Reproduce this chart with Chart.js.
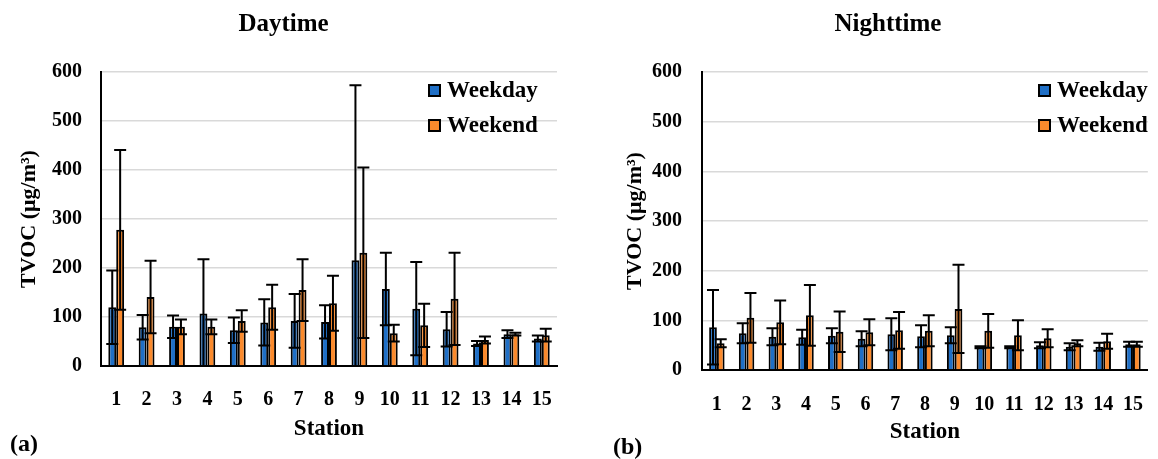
<!DOCTYPE html>
<html>
<head>
<meta charset="utf-8">
<script src="https://cdn.jsdelivr.net/npm/chart.js@4.4.1/dist/chart.umd.min.js"></script>
<style>
  body { margin: 0; background: #fff; width: 1158px; height: 459px; position: relative; overflow: hidden; }
  canvas { position: absolute; top: 0; }
  .legend { position: absolute; font: bold 23px "Liberation Serif", "Times New Roman", serif; color: #000; }
  .legend div { line-height: 24px; display: flex; align-items: center; height: 24px; margin-bottom: 11px; }
  .legend span.box { display: inline-block; width: 9px; height: 9px; border: 2px solid #000; margin-right: 6px; }
  .panel { position: absolute; font: bold 24px "Liberation Serif", "Times New Roman", serif; line-height: 24px; color: #000; }
</style>
</head>
<body>
<canvas id="grafico-dia" width="580" height="459" style="left:0px"></canvas>
<canvas id="grafico-noite" width="578" height="459" style="left:580px"></canvas>
<div class="legend" id="legenda-dia" style="left:428px; top:78px"></div>
<div class="legend" id="legenda-noite" style="left:1038px; top:78px"></div>
<div class="panel" style="left:10px; top:431px">(a)</div>
<div class="panel" style="left:613px; top:434px">(b)</div>
<script>
var estacoes = ["1", "2", "3", "4", "5", "6", "7", "8", "9", "10", "11", "12", "13", "14", "15"];
var yTicks = [0, 100, 200, 300, 400, 500, 600];

var diaSemanaMedia = [120, 79, 80, 107, 73, 89, 92, 90, 216, 157, 117, 75, 46, 65, 56];
var diaSemanaDesvio = [75, 25, 23, 111, 26, 47, 55, 34, 357, 74, 95, 35, 5, 8, 6];
var diaFimMedia = [278, 141, 80, 80, 92, 120, 155, 128, 231, 67, 83, 137, 53, 65, 63];
var diaFimDesvio = [163, 74, 15, 15, 22, 46, 63, 56, 174, 17, 44, 94, 7, 3, 13];

var noiteSemanaMedia = [86, 74, 67, 66, 69, 63, 72, 68, 70, 46, 46, 50, 47, 47, 52];
var noiteSemanaDesvio = [75, 20, 17, 15, 15, 15, 32, 22, 16, 2, 2, 6, 7, 8, 5];
var noiteFimMedia = [54, 105, 96, 110, 77, 76, 80, 79, 123, 79, 70, 64, 54, 58, 52];
var noiteFimDesvio = [8, 50, 44, 61, 41, 26, 37, 31, 89, 34, 30, 18, 6, 15, 5];

var fonte = "'Liberation Serif', 'Times New Roman', serif";
var azul = "#1f6fc6";
var laranja = "#fb8a2c";

// desenha as barras de erro (media +- desvio) usando a escala y do grafico
var barrasErro = {
    id: "barrasErro",
    afterDatasetsDraw: function (chart) {
        var ctx = chart.ctx;
        var y = chart.scales.y;
        ctx.save();
        ctx.strokeStyle = "#000";
        ctx.lineWidth = 2;
        chart.data.datasets.forEach(function (ds, i) {
            var meta = chart.getDatasetMeta(i);
            meta.data.forEach(function (bar, j) {
                var m = ds.data[j], d = ds.desvio[j];
                var topo = y.getPixelForValue(m + d);
                var baixo = y.getPixelForValue(Math.max(0, m - d));
                ctx.beginPath();
                ctx.moveTo(bar.x, topo);
                ctx.lineTo(bar.x, baixo);
                ctx.moveTo(bar.x - 6, topo);
                ctx.lineTo(bar.x + 6, topo);
                if (m - d > 0) {
                    ctx.moveTo(bar.x - 6, baixo);
                    ctx.lineTo(bar.x + 6, baixo);
                }
                ctx.stroke();
            });
        });
        ctx.restore();
    }
};

function montaGrafico(id, titulo, semana, semanaDp, fim, fimDp, cfg) {
    var ref = document.querySelector(id).getContext("2d");
    return new Chart(ref, {
        type: "bar",
        data: {
            labels: estacoes,
            datasets: [{
                label: "Weekday",
                backgroundColor: azul,
                borderColor: "#000",
                borderWidth: 2,
                data: semana,
                desvio: semanaDp,
                categoryPercentage: 0.52,
                barPercentage: 1
            }, {
                label: "Weekend",
                backgroundColor: laranja,
                borderColor: "#000",
                borderWidth: 2,
                data: fim,
                desvio: fimDp,
                categoryPercentage: 0.52,
                barPercentage: 1
            }]
        },
        plugins: [barrasErro],
        options: {
            responsive: false,
            animation: false,
            devicePixelRatio: 1,
            layout: { padding: { left: cfg.padL, right: cfg.padR, top: 0, bottom: 0 } },
            plugins: {
                legend: { display: false },
                tooltip: { enabled: false },
                title: {
                    display: true,
                    text: titulo,
                    color: "#000",
                    font: { family: fonte, size: 25, weight: "bold" },
                    padding: { top: 10, bottom: 32 }
                }
            },
            scales: {
                x: {
                    grid: { display: false },
                    border: { color: "#000", width: 2 },
                    ticks: {
                        color: "#000",
                        autoSkip: false,
                        maxRotation: 0,
                        padding: cfg.xPad,
                        font: { family: fonte, size: 20, weight: "bold" }
                    },
                    title: {
                        display: true,
                        text: "Station",
                        color: "#000",
                        font: { family: fonte, size: 23, weight: "bold" },
                        padding: { top: 0, bottom: cfg.xTitlePad }
                    },
                    afterFit: function (scale) { scale.height = cfg.xAltura; }
                },
                y: {
                    min: 0,
                    max: 600,
                    afterBuildTicks: function (scale) {
                        scale.ticks = yTicks.map(function (v) { return { value: v }; });
                    },
                    grid: {
                        drawTicks: false,
                        lineWidth: 1.5,
                        color: function (c) { return c.tick && c.tick.value === 0 ? "rgba(0,0,0,0)" : "#d9d9d9"; }
                    },
                    border: { color: "#000", width: 2 },
                    ticks: {
                        color: "#000",
                        padding: cfg.yPad,
                        font: { family: fonte, size: 20, weight: "bold" }
                    },
                    title: {
                        display: true,
                        text: "TVOC (μg/m³)",
                        color: "#000",
                        font: { family: fonte, size: 22, weight: "bold" },
                        padding: { top: cfg.yTitlePad, bottom: 0 }
                    },
                    afterFit: function (scale) { scale.width = cfg.yLargura; }
                }
            }
        }
    });
}

function montaLegenda(chart, id) {
    var caixa = document.querySelector(id);
    chart.data.datasets.forEach(function (ds) {
        var item = document.createElement("div");
        var q = document.createElement("span");
        q.className = "box";
        q.style.background = ds.backgroundColor;
        item.appendChild(q);
        item.appendChild(document.createTextNode(ds.label));
        caixa.appendChild(item);
    });
}

var graficoDia = montaGrafico("#grafico-dia", "Daytime",
    diaSemanaMedia, diaSemanaDesvio, diaFimMedia, diaFimDesvio,
    { padL: 10, padR: 23, yLargura: 91, yPad: 19, yTitlePad: 6, xAltura: 93, xPad: 14, xTitlePad: 16 });

var graficoNoite = montaGrafico("#grafico-noite", "Nighttime",
    noiteSemanaMedia, noiteSemanaDesvio, noiteFimMedia, noiteFimDesvio,
    { padL: 39, padR: 1, yLargura: 83, yPad: 20, yTitlePad: 3, xAltura: 89, xPad: 15, xTitlePad: 13 });

montaLegenda(graficoDia, "#legenda-dia");
montaLegenda(graficoNoite, "#legenda-noite");
</script>
</body>
</html>
